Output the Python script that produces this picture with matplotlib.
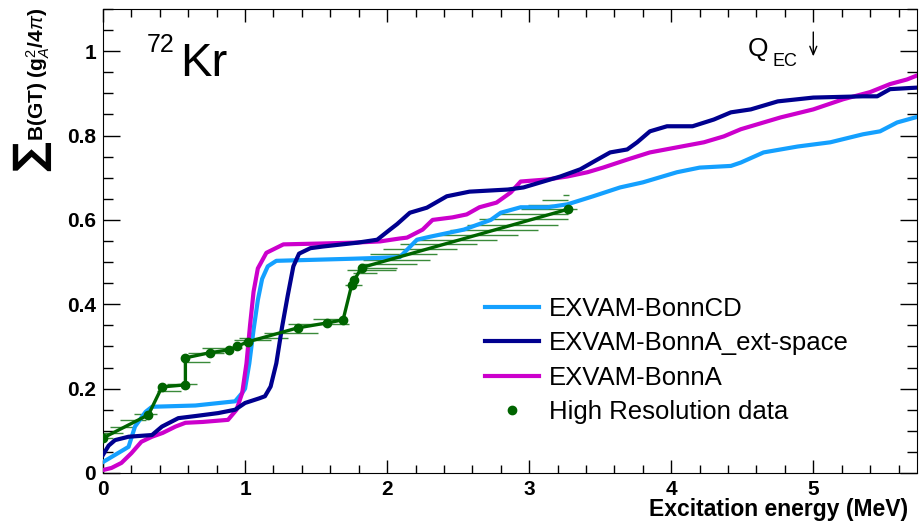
import matplotlib
matplotlib.use("Agg")
import matplotlib.pyplot as plt
from matplotlib.lines import Line2D
from matplotlib.ticker import MultipleLocator

plt.rcParams["font.family"] = ["Liberation Sans", "DejaVu Sans"]
plt.rcParams["mathtext.fontset"] = "custom"
plt.rcParams["mathtext.rm"] = "Liberation Sans"
plt.rcParams["mathtext.it"] = "Liberation Sans:italic"
plt.rcParams["mathtext.bf"] = "Liberation Sans:bold"

# EXVAM-BonnCD
cd_e = [0.00, 0.085, 0.18, 0.225, 0.30, 0.345, 0.65, 0.93, 0.98, 1.00, 1.03,
        1.06, 1.09, 1.12, 1.16, 1.22, 1.76, 1.95, 2.09, 2.21, 2.30, 2.54, 2.73,
        2.80, 2.94, 3.13, 3.27, 3.45, 3.64, 3.80, 4.04, 4.20, 4.42, 4.49, 4.65,
        4.89, 5.12, 5.35, 5.47, 5.59, 5.75]
cd_b = [0.026, 0.043, 0.062, 0.110, 0.145, 0.157, 0.160, 0.170, 0.190, 0.200,
        0.260, 0.340, 0.410, 0.460, 0.490, 0.503, 0.508, 0.510, 0.512, 0.553,
        0.560, 0.577, 0.600, 0.617, 0.630, 0.630, 0.637, 0.656, 0.677, 0.689,
        0.713, 0.724, 0.728, 0.736, 0.760, 0.774, 0.784, 0.803, 0.810, 0.831,
        0.846]

# EXVAM-BonnA_ext-space
ext_e = [0.00, 0.04, 0.085, 0.18, 0.345, 0.415, 0.53, 0.65, 0.81, 0.93, 1.00,
         1.10, 1.14, 1.18, 1.22, 1.26, 1.30, 1.34, 1.38, 1.46, 1.55, 1.79, 1.93,
         2.02, 2.07, 2.16, 2.28, 2.42, 2.58, 2.85, 2.96, 3.08, 3.22, 3.36, 3.48,
         3.57, 3.69, 3.76, 3.85, 3.97, 4.15, 4.30, 4.42, 4.56, 4.75, 5.00, 5.35,
         5.45, 5.54, 5.75]
ext_b = [0.043, 0.065, 0.078, 0.086, 0.090, 0.110, 0.130, 0.135, 0.142, 0.150,
         0.166, 0.177, 0.182, 0.205, 0.260, 0.345, 0.420, 0.490, 0.520, 0.533,
         0.537, 0.546, 0.553, 0.577, 0.590, 0.617, 0.629, 0.656, 0.667, 0.672,
         0.677, 0.689, 0.703, 0.720, 0.743, 0.760, 0.767, 0.784, 0.810, 0.822,
         0.822, 0.838, 0.855, 0.862, 0.881, 0.890, 0.893, 0.893, 0.910, 0.914]

# EXVAM-BonnA
bonna_e = [0.00, 0.06, 0.13, 0.20, 0.27, 0.345, 0.42, 0.51, 0.58, 0.70, 0.88,
           0.94, 0.98, 1.01, 1.035, 1.06, 1.09, 1.15, 1.27, 1.53, 1.76, 1.95,
           2.09, 2.14, 2.25, 2.32, 2.46, 2.56, 2.65, 2.77, 2.87, 2.94, 3.13,
           3.27, 3.41, 3.52, 3.69, 3.85, 4.04, 4.23, 4.37, 4.49, 4.56, 4.77,
           5.00, 5.21, 5.40, 5.54, 5.66, 5.75]
bonna_b = [0.007, 0.012, 0.024, 0.047, 0.074, 0.086, 0.095, 0.110, 0.119,
           0.121, 0.126, 0.150, 0.190, 0.260, 0.350, 0.430, 0.485, 0.522,
           0.542, 0.544, 0.546, 0.549, 0.556, 0.558, 0.577, 0.600, 0.606,
           0.613, 0.630, 0.641, 0.665, 0.691, 0.696, 0.703, 0.713, 0.724,
           0.743, 0.760, 0.772, 0.784, 0.798, 0.815, 0.822, 0.843, 0.862,
           0.886, 0.903, 0.922, 0.933, 0.945]

# High resolution data (cumulative points)
hr_e = [0.00, 0.32, 0.415, 0.58, 0.58, 0.75, 0.89, 0.94, 1.02, 1.37, 1.58,
        1.69, 1.75, 1.77, 1.82, 3.27]
hr_b = [0.083, 0.138, 0.204, 0.209, 0.273, 0.285, 0.292, 0.300, 0.311, 0.344,
        0.356, 0.363, 0.445, 0.458, 0.487, 0.625]

# horizontal uncertainty bars of the data
bar_y = [0.083, 0.095, 0.110, 0.125, 0.140, 0.195, 0.210, 0.264, 0.285, 0.297,
         0.316, 0.320, 0.333, 0.354, 0.366, 0.445, 0.475, 0.482,
         0.485, 0.495, 0.506, 0.518, 0.530, 0.542, 0.553, 0.565, 0.577, 0.589,
         0.601, 0.613, 0.625, 0.636, 0.648, 0.660]
bar_lo = [0.00, 0.00, 0.05, 0.12, 0.22, 0.38, 0.45, 0.56, 0.60, 0.70,
          0.92, 0.96, 1.13, 1.30, 1.48, 1.70, 1.76, 1.72,
          1.81, 1.81, 1.83, 1.88, 1.97, 2.09, 2.21, 2.35, 2.44, 2.56,
          2.65, 2.77, 2.94, 2.99, 3.09, 3.24]
bar_hi = [0.07, 0.14, 0.22, 0.30, 0.38, 0.55, 0.66, 0.75, 0.85, 0.98,
          1.18, 1.30, 1.51, 1.73, 1.70, 1.82, 1.93, 2.06,
          2.07, 2.21, 2.30, 2.35, 2.49, 2.63, 2.77, 2.92, 3.06, 3.20,
          3.27, 3.27, 3.34, 3.17, 3.27, 3.28]

c_cd = "#14a0ff"
c_ext = "#00008f"
c_a = "#cc00cc"
c_hr = "#006400"

fig = plt.figure(figsize=(9.2, 5.26), dpi=100)
ax = fig.add_axes([103 / 920, 1 - 473 / 526, 814 / 920, 464 / 526])

ax.hlines(bar_y, bar_lo, bar_hi, color="#3a8a3a", lw=1.0, zorder=2)
ax.plot(cd_e, cd_b, color=c_cd, lw=3, zorder=3)
ax.plot(ext_e, ext_b, color=c_ext, lw=3, zorder=4)
ax.plot(bonna_e, bonna_b, color=c_a, lw=3, zorder=3)
ax.plot(hr_e, hr_b, color=c_hr, lw=2.4, marker="o", ms=6, zorder=5)

ax.set_xlim(0, 5.73)
ax.set_ylim(0, 1.1)
ax.xaxis.set_minor_locator(MultipleLocator(0.2))
ax.yaxis.set_minor_locator(MultipleLocator(0.05))
ax.set_xticks([0, 1, 2, 3, 4, 5])
ax.set_xticklabels(["0", "1", "2", "3", "4", "5"])
ax.set_yticks([0, 0.2, 0.4, 0.6, 0.8, 1.0])
ax.set_yticklabels(["0", "0.2", "0.4", "0.6", "0.8", "1"])
ax.tick_params(axis="both", which="both", direction="in", top=True,
               right=True, width=1, labelsize=15, pad=5)
ax.tick_params(axis="x", which="major", length=9.5)
ax.tick_params(axis="x", which="minor", length=6)
ax.tick_params(axis="y", which="major", length=12)
ax.tick_params(axis="y", which="minor", length=7)
for lab in ax.get_xticklabels() + ax.get_yticklabels():
    lab.set_fontweight("bold")

# nucleus label and Q value
ax.text(0.31, 0.998, "72", fontsize=18, va="baseline", ha="left")
ax.text(0.54, 0.941, "Kr", fontsize=34, va="baseline", ha="left")
ax.text(4.54, 0.988, "Q", fontsize=19, va="baseline", ha="left")
ax.text(4.71, 0.964, "EC", fontsize=13, va="baseline", ha="left")
ax.annotate("", xy=(5.0, 0.981), xytext=(5.0, 1.052),
            arrowprops=dict(arrowstyle="->,head_length=0.6,head_width=0.25",
                            color="black", lw=1))

# axis titles
fig.text(908 / 920, 1 - 516 / 526, "Excitation energy (MeV)", fontsize=16.5,
         fontweight="bold", ha="right", va="baseline")
fig.text(31 / 920, 1 - 156 / 526, "\u2211", fontsize=30, rotation=90,
         ha="center", va="center", family="DejaVu Sans", fontweight="bold")
fig.text(38 / 920, 1 - 8 / 526, r"B(GT) (g$^{2}_{A}$/4$\pi$)", fontsize=15,
         fontweight="bold", rotation=90, ha="center", va="top")

handles = [
    Line2D([], [], color=c_cd, lw=3),
    Line2D([], [], color=c_ext, lw=3),
    Line2D([], [], color=c_a, lw=3),
    Line2D([], [], color=c_hr, marker="o", ms=6, ls="none"),
]
labels = ["EXVAM-BonnCD", "EXVAM-BonnA_ext-space", "EXVAM-BonnA",
          "High Resolution data"]
fig.legend(handles, labels, loc="upper left",
           bbox_to_anchor=(485 / 920, 1 - 297 / 526), frameon=False,
           fontsize=18.5, handlelength=2.1, handletextpad=0.4,
           labelspacing=0.40, borderpad=0, borderaxespad=0)

fig.savefig("out.png", dpi=100)
